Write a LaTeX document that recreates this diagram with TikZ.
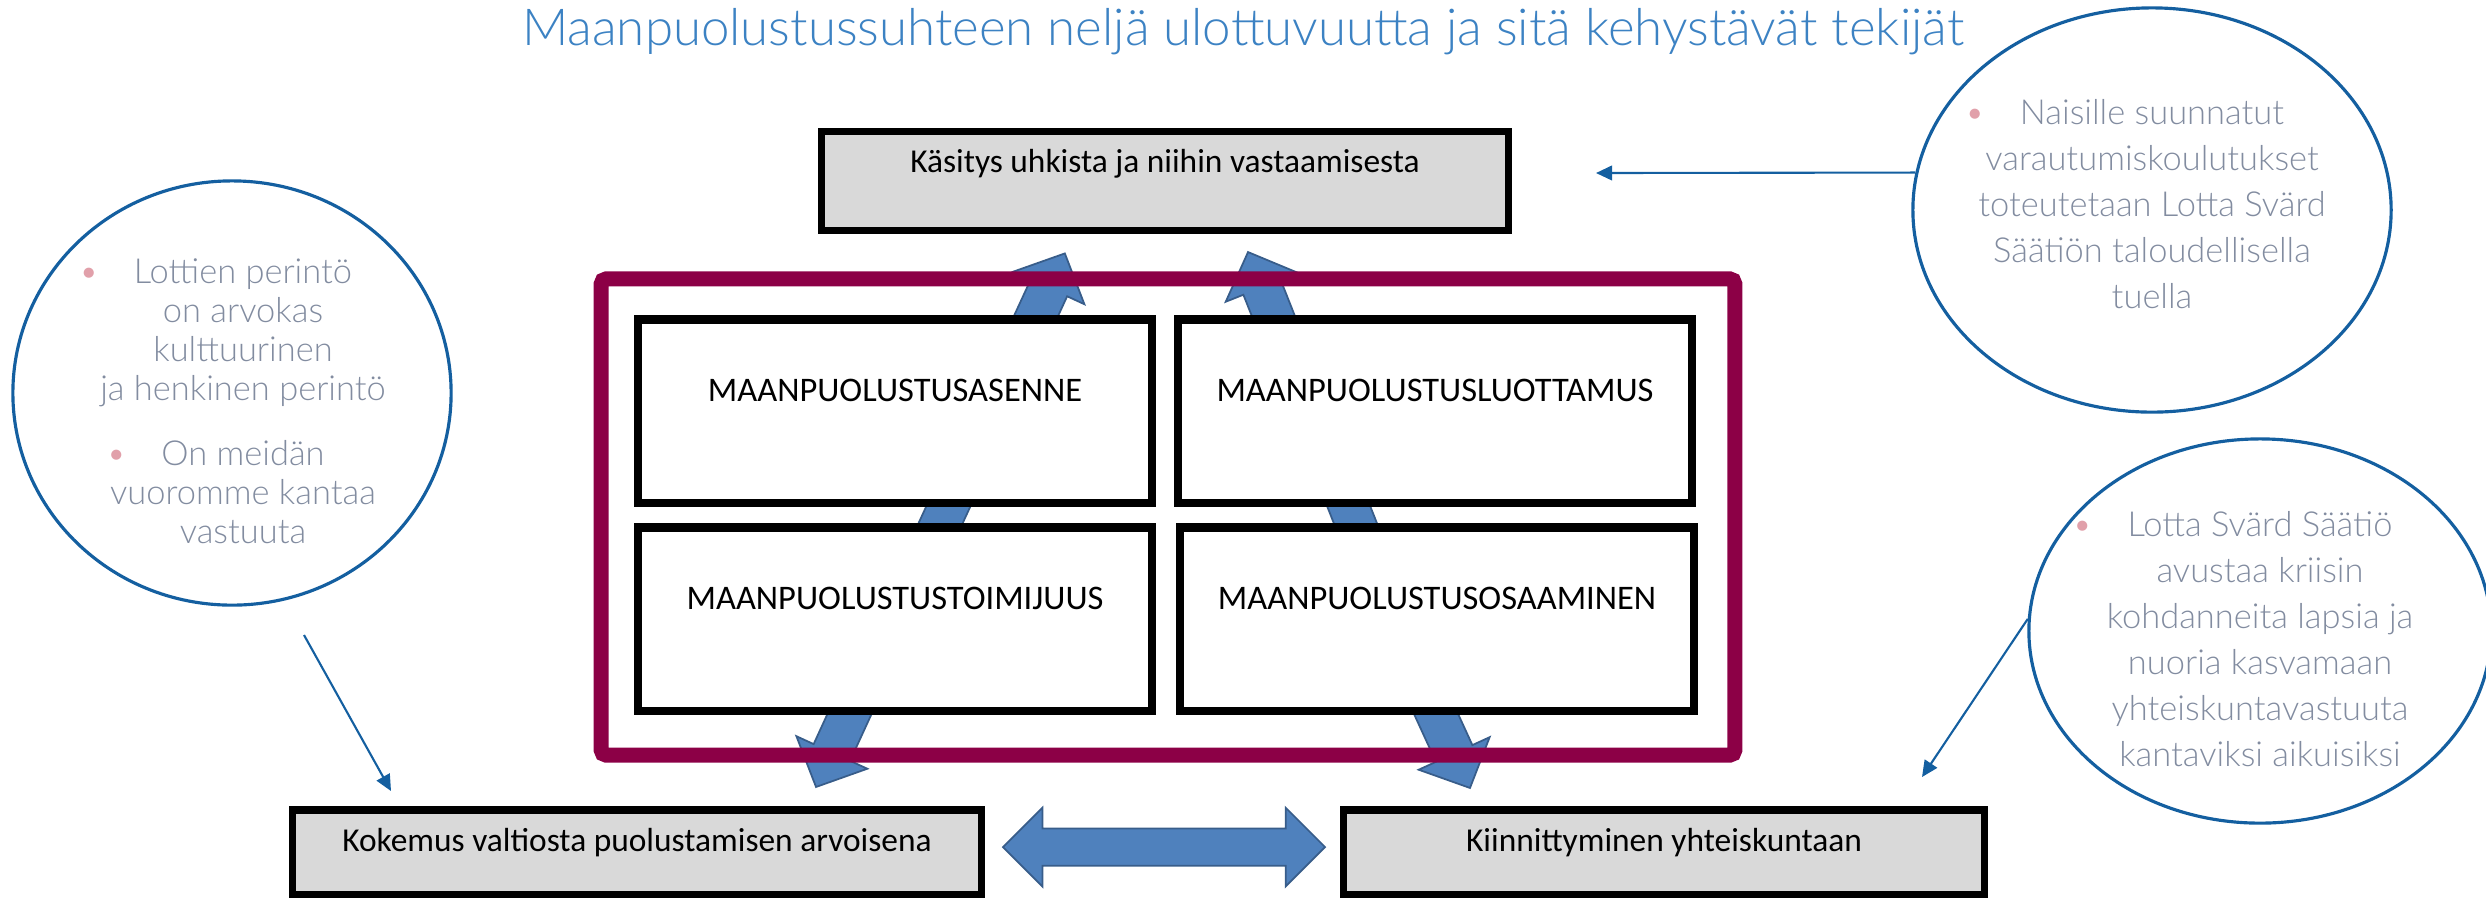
\documentclass[tikz,border=0pt]{standalone}
\usepackage{fontspec}
\setmainfont{Carlito}
\newfontfamily\lightfont{Lato Light}
\usetikzlibrary{calc, shapes.geometric, arrows.meta}

\definecolor{framepurple}{RGB}{140,0,70}
\definecolor{boxgray}{RGB}{217,217,217}
\definecolor{arrowblue}{RGB}{79,129,189}
\definecolor{arrowedge}{RGB}{56,93,138}
\definecolor{bubbleblue}{RGB}{20,95,160}
\definecolor{headingblue}{RGB}{60,130,195}
\definecolor{bubblegray}{RGB}{130,140,160}
\definecolor{bulletpink}{RGB}{225,160,170}

\newcommand{\bul}{\llap{\textcolor{bulletpink}{\textbullet}\hspace{10pt}}}

% Block arrow from #1 to #2, and the same with heads at both ends.
\newcommand{\blockarrow}[2]{%
  \path [arrowshape] let \p1 = ($(#2) - (#1)$), \n1 = {atan2(\y1, \x1)}, \n2 = {veclen(\x1, \y1)} in
    [shift={(#1)}, rotate=\n1]
    (0pt, -5.7pt) -- (\n2 - 10.8pt, -5.7pt) -- (\n2 - 10.8pt, -11.1pt) -- (\n2, 0pt)
    -- (\n2 - 10.8pt, 11.1pt) -- (\n2 - 10.8pt, 5.7pt) -- (0pt, 5.7pt) -- cycle;}
\newcommand{\doublearrow}[2]{%
  \path [arrowshape] let \p1 = ($(#2) - (#1)$), \n1 = {atan2(\y1, \x1)}, \n2 = {veclen(\x1, \y1)} in
    [shift={(#1)}, rotate=\n1]
    (0pt, 0pt) -- (11.2pt, 11.2pt) -- (11.2pt, 5.3pt) -- (\n2 - 11.2pt, 5.3pt) -- (\n2 - 11.2pt, 11.2pt)
    -- (\n2, 0pt) -- (\n2 - 11.2pt, -11.2pt) -- (\n2 - 11.2pt, -5.3pt) -- (11.2pt, -5.3pt) -- (11.2pt, -11.2pt) -- cycle;}

\begin{document}
\begin{tikzpicture}[x=0.01cm, y=-0.01cm,
  heading/.style = {font=\lightfont\fontsize{14.5}{16}\selectfont, text=headingblue},
  graybox/.style = {rectangle, draw, fill=boxgray, line width=2pt, minimum height=0.84cm,
                    font=\fontsize{9.5}{11}\selectfont, text height=6.5pt, text depth=7pt},
  dimension/.style = {rectangle, draw, fill=white, line width=2.3pt, minimum width=5.14cm, minimum height=1.83cm,
                      font=\fontsize{9.8}{11}\selectfont, text height=6pt, text depth=11.4pt},
  dimframe/.style = {rectangle, draw=framepurple, line width=4.3pt, rounded corners=1.5pt,
                     minimum width=11.33cm, minimum height=4.76cm},
  bubble/.style = {ellipse, draw=bubbleblue, line width=0.9pt},
  bubbletext/.style = {text=bubblegray, align=center, font=\lightfont\fontsize{9.8}{13.1}\selectfont},
  bubblelink/.style = {draw=bubbleblue, line width=0.6pt, -{Triangle[width=4.2pt, length=4.6pt]}},
  arrowshape/.style = {fill=arrowblue, draw=arrowedge, line width=0.5pt}]

  \useasboundingbox (0, 0) rectangle (2486, 899);

  % Title.
  \node at (1243, 45) [heading, anchor=base, name=Title]
        {Maanpuolustussuhteen neljä ulottuvuutta ja sitä kehystävät tekijät};

  % Ends of the block arrows (hidden behind the boxes).
  \coordinate (AgencyUp) at (931, 544);
  \coordinate (ThreatsLeft) at (1065, 253);
  \coordinate (SkillsUp) at (1366, 550);
  \coordinate (ThreatsRight) at (1248, 252);
  \coordinate (AgencyDown) at (866, 678);
  \coordinate (ExperienceTop) at (816, 787);
  \coordinate (SkillsDown) at (1420, 679);
  \coordinate (BondTop) at (1470, 788);
  \coordinate (ExperienceRight) at (1003, 847);
  \coordinate (BondLeft) at (1325, 847);

  % Block arrows.
  \blockarrow{AgencyUp}{ThreatsLeft}
  \blockarrow{SkillsUp}{ThreatsRight}
  \blockarrow{AgencyDown}{ExperienceTop}
  \blockarrow{SkillsDown}{BondTop}
  \doublearrow{ExperienceRight}{BondLeft}

  % Boxes.
  \node at (1165, 181) [graybox, minimum height=0.99cm, minimum width=6.87cm, text depth=11.5pt, name=Threats]
        {Käsitys uhkista ja niihin vastaamisesta};
  \node at (895, 411) [dimension, name=Attitude] {MAANPUOLUSTUSASENNE};
  \node at (1435, 411) [dimension, name=Trust] {MAANPUOLUSTUSLUOTTAMUS};
  \node at (895, 619) [dimension, name=Agency] {MAANPUOLUSTUSTOIMIJUUS};
  \node at (1437, 619) [dimension, name=Skills] {MAANPUOLUSTUSOSAAMINEN};
  \node at (1168, 517) [dimframe, name=Dimensions] {};
  \node at (637, 852) [graybox, minimum width=6.89cm, name=Experience]
        {Kokemus valtiosta puolustamisen arvoisena};
  \node at (1664, 852) [graybox, minimum width=6.41cm, name=Bond]
        {Kiinnittyminen yhteiskuntaan};

  % Speech bubbles.
  \node at (232, 393) [bubble, minimum width=4.38cm, minimum height=4.24cm, name=Heritage,
        label={[bubbletext, font=\lightfont\fontsize{9.8}{11.1}\selectfont, xshift=0.11cm, yshift=-0.08cm]center:{%
          \bul Lottien perintö\\ on arvokas\\ kulttuurinen\\ ja henkinen perintö\\[7.4pt]
          \bul On meidän\\ vuoromme kantaa\\ vastuuta}}] {};
  \node at (2152, 210) [bubble, minimum width=4.78cm, minimum height=4.04cm, name=Training,
        label={[bubbletext, yshift=0.06cm]center:{%
          \bul Naisille suunnatut\\ varautumiskoulutukset\\ toteutetaan Lotta Svärd\\
          Säätiön taloudellisella\\ tuella}}] {};
  \node at (2260, 631) [bubble, minimum width=4.62cm, minimum height=3.84cm, name=Youth,
        label={[bubbletext, yshift=-0.08cm]center:{%
          \bul Lotta Svärd Säätiö\\ avustaa kriisin\\ kohdanneita lapsia ja\\ nuoria kasvamaan\\
          yhteiskuntavastuuta\\ kantaviksi aikuisiksi}}] {};

  % Pointers from the bubbles.
  \coordinate (ThreatsIn) at (1596, 173);
  \coordinate (HeritageOut) at (304, 635);
  \coordinate (ExperienceIn) at (391, 791);
  \coordinate (BondIn) at (1922, 777);
  \draw [bubblelink] (Training.171) to (ThreatsIn);
  \draw [bubblelink] (HeritageOut) to (ExperienceIn);
  \draw [bubblelink] (Youth.177) to (BondIn);
\end{tikzpicture}
\end{document}
